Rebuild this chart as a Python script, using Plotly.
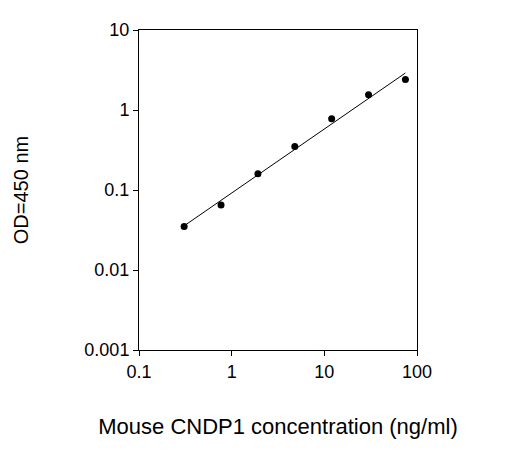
import plotly.graph_objs as go

conc = [0.307, 0.768, 1.92, 4.8, 12, 30, 75]
od = [0.035, 0.065, 0.16, 0.35, 0.78, 1.55, 2.4]
fit_x = [0.3, 75]
fit_y = [0.035, 2.9]

tickvals = [0.1, 1, 10, 100]
ytickvals = [0.001, 0.01, 0.1, 1, 10]

fig = go.Figure()
fig.add_trace(go.Scatter(x=fit_x, y=fit_y, mode='lines',
                         line=dict(color='black', width=1)))
fig.add_trace(go.Scatter(x=conc, y=od, mode='markers',
                         marker=dict(color='black', size=7)))

axis_common = dict(type='log', showgrid=False, zeroline=False,
                   showline=True, linecolor='black', linewidth=1,
                   mirror=True, ticks='outside', ticklen=5,
                   tickcolor='black',
                   tickfont=dict(family='Liberation Sans, Arial', size=18, color='black'))

fig.update_layout(
    width=524, height=470,
    margin=dict(l=129, r=115, t=22, b=128),
    paper_bgcolor='white', plot_bgcolor='white',
    showlegend=False,
    font=dict(family='Liberation Sans, Arial', color='black'),
    xaxis=dict(axis_common, range=[-1, 2], tickvals=tickvals,
               ticktext=['0.1', '1', '10', '100'],
               title=dict(text='Mouse CNDP1 concentration (ng/ml)',
                          font=dict(size=22), standoff=38)),
    yaxis=dict(axis_common, range=[-3, 1], tickvals=ytickvals,
               ticktext=['0.001', '0.01', '0.1', '1', '10'],
               title=dict(text='OD=450 nm', font=dict(size=20), standoff=50)),
)

fig.write_html("out.html")
